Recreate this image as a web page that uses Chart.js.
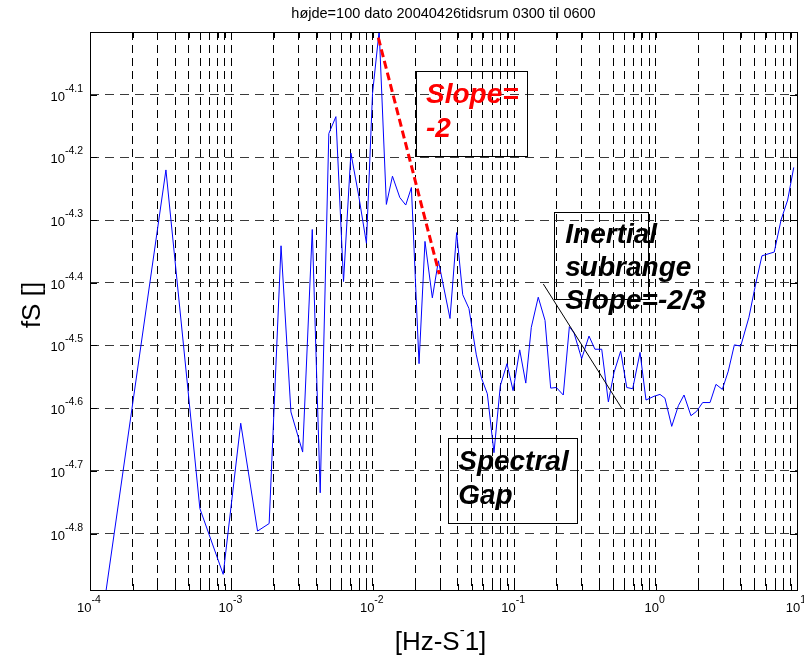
<!DOCTYPE html>
<html>
<head>
<meta charset="utf-8">
<title>højde=100 dato 20040426</title>
<script src="https://cdn.jsdelivr.net/npm/chart.js@4.4.1/dist/chart.umd.min.js"></script>
<style>
  html, body { margin: 0; padding: 0; background: #fff; }
  canvas { display: block; }
</style>
</head>
<body>
<canvas id="spectrum" width="804" height="658"></canvas>
<script>
// --- spectrum, as log10 values ---
const logFreq = [
  -3.887, -3.463, -3.223, -3.058, -2.934, -2.815, -2.733, -2.649, -2.579, -2.496,
  -2.428, -2.372, -2.311, -2.261, -2.207, -2.155, -2.099, -2.045, -2.002, -1.955,
  -1.904, -1.861, -1.809, -1.767, -1.727, -1.673, -1.631, -1.579, -1.536, -1.454,
  -1.407, -1.364, -1.320, -1.268, -1.230, -1.190, -1.143, -1.098, -1.051, -1.008,
  -0.961, -0.918, -0.879, -0.830, -0.782, -0.742, -0.702, -0.653, -0.610, -0.577,
  -0.523, -0.471, -0.429, -0.381, -0.334, -0.294, -0.247, -0.204, -0.162, -0.110,
  -0.068, -0.011, 0.031, 0.066, 0.114, 0.161, 0.201, 0.250, 0.290, 0.333,
  0.385, 0.427, 0.472, 0.514, 0.557, 0.602, 0.660, 0.703, 0.752, 0.795,
  0.839, 0.887, 0.934, 0.977
];
const logFS = [
  -4.892, -4.220, -4.760, -4.865, -4.624, -4.796, -4.784, -4.341, -4.606, -4.670,
  -4.315, -4.735, -4.162, -4.135, -4.398, -4.193, -4.262, -4.337, -4.098, -3.998,
  -4.275, -4.230, -4.264, -4.276, -4.248, -4.529, -4.334, -4.424, -4.365, -4.457,
  -4.320, -4.419, -4.441, -4.515, -4.553, -4.577, -4.671, -4.564, -4.529, -4.572,
  -4.507, -4.560, -4.471, -4.423, -4.460, -4.568, -4.567, -4.579, -4.470, -4.480,
  -4.521, -4.485, -4.506, -4.506, -4.590, -4.543, -4.509, -4.567, -4.569, -4.511,
  -4.587, -4.581, -4.578, -4.584, -4.629, -4.596, -4.579, -4.612, -4.605, -4.591,
  -4.591, -4.562, -4.570, -4.541, -4.499, -4.501, -4.455, -4.407, -4.357, -4.354,
  -4.351, -4.300, -4.268, -4.216
];

// guide lines drawn on top of the spectrum
const slope2LogFreq = [-1.961, -1.530];
const slope2LogFS = [-4.009, -4.386];
const slope23LogFreq = [-0.794, -0.240];
const slope23LogFS = [-4.402, -4.600];

// axes
const xDecades = [-4, -3, -2, -1, 0, 1];
const yTickExps = [-4.1, -4.2, -4.3, -4.4, -4.5, -4.6, -4.7, -4.8];
const yMinExp = -4.89;
const yMaxExp = -4.0;

const titleText = 'højde=100 dato 20040426tidsrum 0300 til 0600';
const yLabelText = 'fS []';

// text boxes: corners in log10 data units
const notes = [
  { lines: ['Slope=', '-2'], color: '#ff0000', box: [-1.6945, -4.0629, -0.907, -4.1988], dx: 10, dy: 32, step: 34 },
  { lines: ['Inertial', 'subrange', 'Slope=-2/3'], color: '#000', box: [-0.7164, -4.2876, -0.0516, -4.4256], dx: 11, dy: 31, step: 32.7 },
  { lines: ['Spectral', 'Gap'], color: '#000', box: [-1.4703, -4.6471, -0.558, -4.7826], dx: 10.5, dy: 32.7, step: 34 }
];

const pow10 = (e) => Math.pow(10, e);
const toPoints = (lx, ly) => lx.map((v, i) => ({ x: pow10(v), y: pow10(ly[i]) }));

// every 1..9 x 10^k position gets a grid line
const xGridValues = [];
xDecades.slice(0, -1).forEach(e => {
    for (let m = 1; m < 10; m++) xGridValues.push(m * pow10(e));
});
xGridValues.push(pow10(xDecades[xDecades.length - 1]));

const FONT = '"Liberation Sans", Arial, Helvetica, sans-serif';

function drawPower(ctx, x, y, exp, mode) {
    ctx.font = `13px ${FONT}`;
    const w10 = ctx.measureText('10').width;
    ctx.font = `10.5px ${FONT}`;
    const wExp = ctx.measureText(exp).width;
    let left, base;
    if (mode === 'x') {
        left = x - (w10 + wExp) / 2 - 1;
        base = y;
    } else {
        left = x - (w10 + wExp);
        base = y + 6;
    }
    ctx.font = `13px ${FONT}`;
    ctx.fillText('10', left, base);
    ctx.font = `10.5px ${FONT}`;
    ctx.fillText(exp, left + w10, base - 9);
}

const matlabAxes = {
    id: 'matlabAxes',
    afterDraw(chart) {
        const { ctx, chartArea: a, scales: { x, y } } = chart;
        ctx.save();
        ctx.fillStyle = '#000';
        ctx.strokeStyle = '#000';
        ctx.lineWidth = 1;
        ctx.textBaseline = 'alphabetic';
        ctx.textAlign = 'left';

        // box round the axes
        ctx.strokeRect(Math.round(a.left) + 0.5, Math.round(a.top) + 0.5,
            Math.round(a.right - a.left), Math.round(a.bottom - a.top));

        // inward tick marks
        ctx.beginPath();
        xGridValues.forEach(v => {
            const px = Math.round(x.getPixelForValue(v)) + 0.5;
            ctx.moveTo(px, a.bottom); ctx.lineTo(px, a.bottom - 6);
            ctx.moveTo(px, a.top); ctx.lineTo(px, a.top + 6);
        });
        yTickExps.forEach(e => {
            const py = Math.round(y.getPixelForValue(pow10(e))) + 0.5;
            ctx.moveTo(a.left, py); ctx.lineTo(a.left + 7, py);
            ctx.moveTo(a.right, py); ctx.lineTo(a.right - 7, py);
        });
        ctx.stroke();

        // tick labels
        xDecades.forEach(e => {
            drawPower(ctx, x.getPixelForValue(pow10(e)), 612, String(e), 'x');
        });
        yTickExps.forEach(e => {
            drawPower(ctx, a.left - 7, y.getPixelForValue(pow10(e)), e.toFixed(1), 'y');
        });

        // title
        ctx.font = `14.5px ${FONT}`;
        ctx.textAlign = 'center';
        ctx.fillText(titleText, (a.left + a.right) / 2, 18);

        // x label: [Hz-S¯1]
        ctx.font = `26px ${FONT}`;
        const partA = '[Hz-S', partC = '1]';
        const wA = ctx.measureText(partA).width, wC = ctx.measureText(partC).width;
        ctx.font = `15px ${FONT}`;
        const wB = ctx.measureText('-').width;
        let sx = (a.left + a.right) / 2 - (wA + wB + wC) / 2 - 3;
        ctx.textAlign = 'left';
        ctx.font = `26px ${FONT}`;
        ctx.fillText(partA, sx, 650);
        ctx.font = `15px ${FONT}`;
        ctx.fillText('-', sx + wA, 635);
        ctx.font = `26px ${FONT}`;
        ctx.fillText(partC, sx + wA + wB, 650);

        // y label
        ctx.save();
        ctx.translate(40, (a.top + a.bottom) / 2 - 6);
        ctx.rotate(-Math.PI / 2);
        ctx.textAlign = 'center';
        ctx.font = `26px ${FONT}`;
        ctx.fillText(yLabelText, 0, 0);
        ctx.restore();

        // annotation boxes
        notes.forEach(n => {
            const l = x.getPixelForValue(pow10(n.box[0]));
            const t = y.getPixelForValue(pow10(n.box[1]));
            const r = x.getPixelForValue(pow10(n.box[2]));
            const b = y.getPixelForValue(pow10(n.box[3]));
            ctx.strokeStyle = '#000';
            ctx.lineWidth = 1;
            ctx.strokeRect(Math.round(l) + 0.5, Math.round(t) + 0.5, Math.round(r - l), Math.round(b - t));
            ctx.fillStyle = n.color;
            ctx.font = `italic bold 28px ${FONT}`;
            ctx.textAlign = 'left';
            n.lines.forEach((txt, i) => ctx.fillText(txt, l + n.dx, t + n.dy + i * n.step));
        });
        ctx.restore();
    }
};

const ctx = document.getElementById('spectrum').getContext('2d');
const spectrumChart = new Chart(ctx, {
    type: 'scatter',
    data: {
        datasets: [
            {
                label: 'Slope -2',
                data: toPoints(slope2LogFreq, slope2LogFS),
                showLine: true,
                borderColor: '#ff0000',
                borderWidth: 3,
                borderDash: [8, 4],
                pointRadius: 0
            },
            {
                label: 'Slope -2/3',
                data: toPoints(slope23LogFreq, slope23LogFS),
                showLine: true,
                borderColor: '#000000',
                borderWidth: 1,
                pointRadius: 0
            },
            {
                label: 'fS',
                data: toPoints(logFreq, logFS),
                showLine: true,
                borderColor: '#0000ff',
                borderWidth: 1,
                pointRadius: 0,
                tension: 0
            }
        ]
    },
    options: {
        responsive: false,
        animation: false,
        devicePixelRatio: 1,
        events: [],
        layout: { padding: { left: 90, top: 32, right: 7, bottom: 68 } },
        plugins: {
            legend: { display: false },
            tooltip: { enabled: false },
            title: { display: false }
        },
        scales: {
            x: {
                type: 'logarithmic',
                min: pow10(xDecades[0]),
                max: pow10(xDecades[xDecades.length - 1]),
                afterBuildTicks: (scale) => { scale.ticks = xGridValues.map(v => ({ value: v })); },
                ticks: { display: false },
                grid: { color: '#000000', lineWidth: 1, drawTicks: false },
                border: { display: false, dash: [8, 5] }
            },
            y: {
                type: 'logarithmic',
                min: pow10(yMinExp),
                max: pow10(yMaxExp),
                afterBuildTicks: (scale) => { scale.ticks = yTickExps.map(e => ({ value: pow10(e) })); },
                ticks: { display: false },
                grid: { color: '#3a3a3a', lineWidth: 1, drawTicks: false },
                border: { display: false, dash: [9, 6] }
            }
        }
    },
    plugins: [matlabAxes]
});
</script>
</body>
</html>
